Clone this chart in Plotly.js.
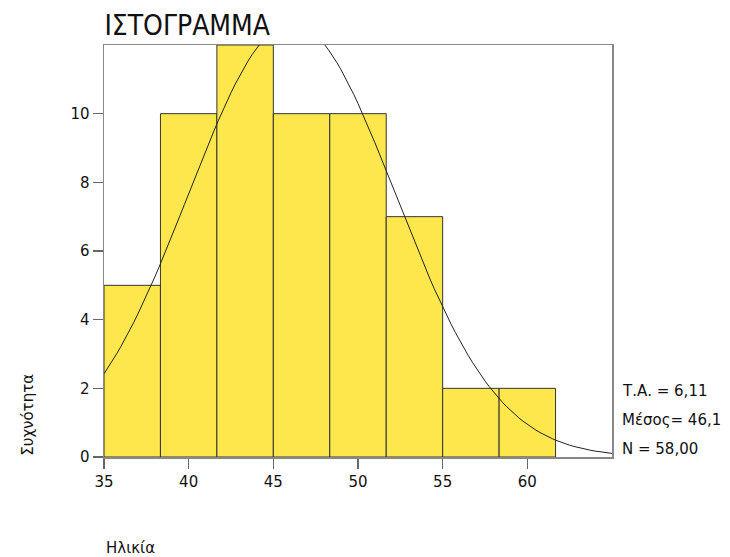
<!DOCTYPE html>
<html>
<head>
<meta charset="utf-8">
<script src="https://cdn.plot.ly/plotly-3.0.1.min.js"></script>
<style>html,body{margin:0;padding:0;background:#fff;}#chart{width:730px;height:557px;}</style>
</head>
<body>
<div id="chart"></div>
<script>
// Histogram bins (age) and counts
const binEdges = [35, 38.333, 41.667, 45, 48.333, 51.667, 55, 58.333, 61.667];
const counts = [5, 10, 12, 10, 10, 7, 2, 2];
// Summary statistics printed on the chart
const statSD = 6.11;
const statMean = 46.1;
const statN = 58;
const statLabels = ["Τ.Α. = 6,11", "Μέσος= 46,1", "N = 58,00"];
const xTicks = [35, 40, 45, 50, 55, 60];
const yTicks = [0, 2, 4, 6, 8, 10];
const titleText = "ΙΣΤΟΓΡΑΜΜΑ";
const xTitle = "Ηλικία";
const yTitle = "Συχνότητα";

const centers = counts.map((c, i) => (binEdges[i] + binEdges[i + 1]) / 2);
const widths = counts.map((c, i) => binEdges[i + 1] - binEdges[i]);
const binW = widths[0];

// fitted normal curve from the printed statistics
const curveX = [];
const curveY = [];
for (let x = 35; x <= 65.0001; x += 0.25) {
  curveX.push(x);
  const z = (x - statMean) / statSD;
  curveY.push(statN * binW / (statSD * Math.sqrt(2 * Math.PI)) * Math.exp(-0.5 * z * z));
}

const font = "Tahoma, 'DejaVu Sans', Verdana, sans-serif";
const titleFont = "'DejaVu Sans Condensed', Tahoma, 'DejaVu Sans', sans-serif";

const traces = [
  {
    type: "bar",
    x: centers,
    y: counts,
    width: widths,
    marker: { color: "#fde74c", line: { color: "#333333", width: 1 } },
    hoverinfo: "skip"
  },
  {
    type: "scatter",
    mode: "lines",
    x: curveX,
    y: curveY,
    line: { color: "#222222", width: 1 },
    hoverinfo: "skip"
  }
];

const annotations = [
  { text: yTitle, xref: "paper", yref: "paper", x: -0.15, y: 0.102, textangle: -90,
    showarrow: false, xanchor: "center", yanchor: "middle", font: { family: font, size: 15, color: "#111" } },
  { text: xTitle, xref: "paper", yref: "paper", x: 0.0, y: -0.222, xanchor: "left", yanchor: "middle",
    showarrow: false, font: { family: font, size: 15, color: "#111" } }
];
statLabels.forEach((t, i) => {
  annotations.push({ text: t, xref: "paper", yref: "paper", x: 1.016, y: 0.16 - i * 0.07,
    xanchor: "left", yanchor: "middle", showarrow: false, font: { family: font, size: 15, color: "#111" } });
});

const layout = {
  width: 730, height: 557,
  margin: { l: 104, r: 118, t: 45, b: 100 },
  paper_bgcolor: "#ffffff", plot_bgcolor: "#ffffff",
  showlegend: false,
  bargap: 0,
  title: { text: titleText, x: 0.143, xanchor: "left", y: 0.955, yanchor: "middle",
    font: { family: titleFont, size: 28, color: "#111" } },
  xaxis: {
    range: [35, 65], tickvals: xTicks, ticktext: xTicks.map(String),
    showgrid: false, zeroline: false,
    showline: true, mirror: true, linecolor: "#888888", linewidth: 1.5,
    ticks: "outside", ticklen: 10, tickcolor: "#666666", tickwidth: 1.5,
    tickfont: { family: font, size: 15, color: "#111" }
  },
  yaxis: {
    range: [0, 12], tickvals: yTicks, ticktext: yTicks.map(String),
    showgrid: false, zeroline: false,
    showline: true, mirror: true, linecolor: "#888888", linewidth: 1.5,
    ticks: "outside", ticklen: 10, tickcolor: "#666666", tickwidth: 1.5,
    tickfont: { family: font, size: 15, color: "#111" }
  },
  annotations: annotations
};

Plotly.newPlot("chart", traces, layout, { staticPlot: true, displayModeBar: false });
</script>
</body>
</html>
